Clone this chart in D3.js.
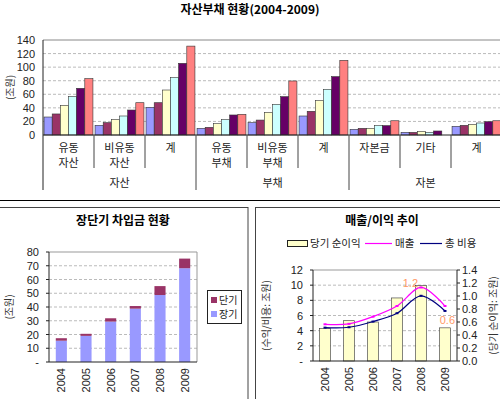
<!DOCTYPE html>
<html><head><meta charset="utf-8">
<script src="https://cdn.jsdelivr.net/npm/d3@7"></script>
<style>
body{margin:0;background:#fff;}
svg{display:block;font-family:"Liberation Sans","Noto Sans CJK KR",sans-serif;}
.kr{font-family:"Noto Sans CJK KR","Liberation Sans",sans-serif;}
</style></head><body>
<svg id="c" width="500" height="399"></svg>
<script>
// ---------- data ----------
const years = ["2004","2005","2006","2007","2008","2009"];
const topCategories = [["유동","자산"],["비유동","자산"],["계"],["유동","부채"],["비유동","부채"],["계"],["자본금"],["기타"],["계"]];
const topGroups = ["자산","부채","자본"];
const topGroupSpan = [3,3,3];
const v2004 = [26.5,14.2,40.8,9.8,18.2,28,8.3,3.9,12.8];
const v2005 = [31,18.2,47.6,11.3,22,34.9,9.8,3.9,14.2];
const v2006 = [43.7,22.6,66.3,16.7,33.4,50.6,9.8,5.4,15.7];
const v2007 = [56.5,28,84.5,22.6,45.2,67.3,13.8,3.9,17.7];
const v2008 = [68.8,36.8,105.6,29.5,56.5,86,13.8,5.9,19.6];
const v2009 = [83,47.6,131,30.5,79.6,110,21,0,21];
const topTicks = [0,20,40,60,80,100,120,140];

const loanLong = [15.5,19,29.4,38.8,48.7,68.2];
const loanShort = [1.8,1.5,2.4,1.9,6.5,7];
const loanTicks = [0,10,20,30,40,50,60,70,80];

const netIncome = [0.5,0.62,0.6,0.97,1.16,0.51];
const sales = [4.84,4.9,5.85,7.25,9.7,7.25];
const totalCost = [4.4,4.45,5.2,6.3,8.6,6.6];
const leftTicks = [0,2,4,6,8,10,12];
const rightTicks = [0,0.2,0.4,0.6,0.8,1.0,1.2,1.4];
const incomeLabels = [{i:4,t:"1.2"},{i:5,t:"0.6"}];

const yearColors = ["#9999ff","#993366","#ffffcc","#ccffff","#660066","#ff8080"];
const svg = d3.select("#c");

// ---------- top chart ----------
{
  const L=43,R=502,T=40,B=135;
  const series=[v2004,v2005,v2006,v2007,v2008,v2009];
  const x=d3.scaleBand().domain(d3.range(topCategories.length)).range([L,R]).paddingInner(0).paddingOuter(0);
  const xi=d3.scaleBand().domain(d3.range(6)).range([0,x.bandwidth()]).paddingInner(0).paddingOuter(0.13);
  const y=d3.scaleLinear().domain([0,140]).range([B,T]);
  const g=svg.append("g");
  g.append("text").attr("class","kr").attr("x",250).attr("y",14).attr("text-anchor","middle")
    .attr("font-size",12).attr("font-weight","bold").text("자산부채 현황(2004-2009)");
  g.selectAll(".gr").data(topTicks.filter(d=>d>0&&d<140)).join("line")
    .attr("x1",L).attr("x2",R).attr("y1",d=>y(d)).attr("y2",d=>y(d))
    .attr("stroke","#aaa").attr("stroke-dasharray","3,2").attr("stroke-width",0.8);
  g.append("line").attr("x1",L).attr("x2",R).attr("y1",y(140)).attr("y2",y(140)).attr("stroke","#888");
  series.forEach((s,k)=>{
    g.selectAll(".b"+k).data(s).join("rect")
      .attr("x",(d,i)=>x(i)+xi(k)).attr("width",xi.bandwidth())
      .attr("y",d=>y(d)).attr("height",d=>y(0)-y(d))
      .attr("fill",yearColors[k]).attr("stroke",d=>d>0?"#333":"none").attr("stroke-width",0.6);
  });
  const ya=g.append("g").attr("transform",`translate(${L},0)`).call(d3.axisLeft(y).tickValues(topTicks).tickSize(0).tickPadding(8));
  ya.select(".domain").remove();
  ya.selectAll("text").attr("font-size",11).attr("fill","#222").attr("font-family","Liberation Sans");
  g.append("line").attr("x1",L).attr("x2",L).attr("y1",T).attr("y2",190).attr("stroke","#222");
  g.append("line").attr("x1",L).attr("x2",R).attr("y1",B).attr("y2",B).attr("stroke","#222");
  const longB=new Set([3,6]);
  g.selectAll(".sep").data(d3.range(1,topCategories.length)).join("line")
    .attr("x1",i=>x(i)).attr("x2",i=>x(i)).attr("y1",B).attr("y2",i=>longB.has(i)?190:168)
    .attr("stroke","#444");
  topCategories.forEach((c,i)=>{
    c.forEach((t,j)=>{
      g.append("text").attr("class","kr").attr("x",x(i)+x.bandwidth()/2).attr("y",152+j*15)
        .attr("text-anchor","middle").attr("font-size",11).attr("fill","#222").text(t);
    });
  });
  let start=0;
  topGroups.forEach((gname,gi)=>{
    const n=topGroupSpan[gi];
    const cx=(x(start)+x(start+n-1)+x.bandwidth())/2;
    g.append("text").attr("class","kr").attr("x",cx).attr("y",187).attr("text-anchor","middle")
      .attr("font-size",11).attr("fill","#222").text(gname);
    start+=n;
  });
  g.append("text").attr("class","kr").attr("transform",`translate(14,${(T+B)/2}) rotate(-90)`)
    .attr("text-anchor","middle").attr("font-size",10).attr("fill","#333").text("(조원)");
}

svg.append("line").attr("x1",0).attr("x2",500).attr("y1",200.5).attr("y2",200.5).attr("stroke","#000").attr("stroke-width",1.2);
svg.append("rect").attr("x",-1).attr("y",207.5).attr("width",249).attr("height",200).attr("fill","none").attr("stroke","#444");
svg.append("rect").attr("x",255.5).attr("y",207.5).attr("width",250).attr("height",200).attr("fill","none").attr("stroke","#444");

// ---------- bottom-left chart ----------
{
  const L=49,R=197,T=252,B=362;
  const x=d3.scaleBand().domain(years).range([L,R]).paddingInner(0.55).paddingOuter(0.275);
  const y=d3.scaleLinear().domain([0,80]).range([B,T]);
  const g=svg.append("g");
  g.append("text").attr("class","kr").attr("x",123).attr("y",225).attr("text-anchor","middle")
    .attr("font-size",12).attr("font-weight","bold").text("장단기 차입금 현황");
  g.selectAll(".gr").data(loanTicks.filter(d=>d>0&&d<80)).join("line")
    .attr("x1",L).attr("x2",R).attr("y1",d=>y(d)).attr("y2",d=>y(d))
    .attr("stroke","#aaa").attr("stroke-dasharray","3,2").attr("stroke-width",0.8);
  g.append("path").attr("d",`M${L},${T}H${R}V${B}`).attr("fill","none").attr("stroke","#999");
  g.selectAll(".bl").data(loanLong).join("rect")
    .attr("x",(d,i)=>x(years[i])).attr("width",x.bandwidth())
    .attr("y",d=>y(d)).attr("height",d=>y(0)-y(d)).attr("fill","#9999ff");
  g.selectAll(".bs").data(loanShort).join("rect")
    .attr("x",(d,i)=>x(years[i])).attr("width",x.bandwidth())
    .attr("y",(d,i)=>y(d+loanLong[i])).attr("height",d=>y(0)-y(d)).attr("fill","#993366");
  const ya=g.append("g").attr("transform",`translate(${L},0)`).call(d3.axisLeft(y).tickValues(loanTicks).tickSize(0).tickPadding(10).tickFormat(d=>d===0?"-":d));
  ya.select(".domain").remove();
  ya.selectAll("text").attr("font-size",11).attr("fill","#222").attr("font-family","Liberation Sans");
  g.append("line").attr("x1",L).attr("x2",L).attr("y1",T).attr("y2",B).attr("stroke","#222");
  g.append("line").attr("x1",L).attr("x2",R).attr("y1",B).attr("y2",B).attr("stroke","#222");
  g.selectAll(".tk").data(loanTicks).join("line").attr("x1",L-3).attr("x2",L).attr("y1",d=>y(d)).attr("y2",d=>y(d)).attr("stroke","#222");
  g.selectAll(".xl").data(years).join("text")
    .attr("transform",d=>`translate(${x(d)+x.bandwidth()/2+4},${B+6}) rotate(-90)`)
    .attr("text-anchor","end").attr("font-size",11).attr("fill","#222").text(d=>d);
  g.append("text").attr("class","kr").attr("transform",`translate(13,${(T+B)/2}) rotate(-90)`)
    .attr("text-anchor","middle").attr("font-size",10).attr("fill","#333").text("(조원)");
  g.append("rect").attr("x",207.5).attr("y",290.5).attr("width",34).attr("height",33).attr("fill","#fff").attr("stroke","#222");
  [["단기","#993366"],["장기","#9999ff"]].forEach((it,i)=>{
    g.append("rect").attr("x",211).attr("y",297+i*14).attr("width",6).attr("height",6).attr("fill",it[1]);
    g.append("text").attr("class","kr").attr("x",219).attr("y",304+i*14).attr("font-size",10).attr("fill","#222").text(it[0]);
  });
}

// ---------- bottom-right chart ----------
{
  const L=313,R=457,T=270,B=361;
  const x=d3.scaleBand().domain(years).range([L,R]).paddingInner(0.55).paddingOuter(0.275);
  const yl=d3.scaleLinear().domain([0,12]).range([B,T]);
  const yr=d3.scaleLinear().domain([0,1.4]).range([B,T]);
  const g=svg.append("g");
  g.append("text").attr("class","kr").attr("x",382).attr("y",225).attr("text-anchor","middle")
    .attr("font-size",12).attr("font-weight","bold").text("매출/이익 추이");
  g.append("rect").attr("x",287.5).attr("y",240.5).attr("width",20).attr("height",6).attr("fill","#ffffcc").attr("stroke","#222");
  g.append("text").attr("class","kr").attr("x",310).attr("y",247).attr("font-size",10.5).attr("fill","#222").text("당기 순이익");
  g.append("line").attr("x1",365).attr("x2",392).attr("y1",243.5).attr("y2",243.5).attr("stroke","#ff00ff").attr("stroke-width",1.2);
  g.append("text").attr("class","kr").attr("x",395).attr("y",247).attr("font-size",10.5).attr("fill","#222").text("매출");
  g.append("line").attr("x1",420).attr("x2",442).attr("y1",243.5).attr("y2",243.5).attr("stroke","#000080").attr("stroke-width",1.2);
  g.append("text").attr("class","kr").attr("x",445).attr("y",247).attr("font-size",10.5).attr("fill","#222").text("총 비용");
  g.selectAll(".gr").data(leftTicks.filter(d=>d>0&&d<12)).join("line")
    .attr("x1",L).attr("x2",R).attr("y1",d=>yl(d)).attr("y2",d=>yl(d))
    .attr("stroke","#aaa").attr("stroke-dasharray","3,2").attr("stroke-width",0.8);
  g.append("line").attr("x1",L).attr("x2",R).attr("y1",T).attr("y2",T).attr("stroke","#999");
  g.selectAll(".bn").data(netIncome).join("rect")
    .attr("x",(d,i)=>x(years[i])).attr("width",x.bandwidth())
    .attr("y",d=>yr(d)).attr("height",d=>yr(0)-yr(d))
    .attr("fill","#ffffcc").attr("stroke","#333").attr("stroke-width",0.6);
  const cx=i=>x(years[i])+x.bandwidth()/2;
  const line=(arr)=>d3.line().x((d,i)=>cx(i)).y(d=>yl(d)).curve(d3.curveCatmullRom.alpha(0.5))(arr);
  g.append("path").attr("d",line(sales)).attr("fill","none").attr("stroke","#ff00ff").attr("stroke-width",1.2);
  g.append("path").attr("d",line(totalCost)).attr("fill","none").attr("stroke","#000080").attr("stroke-width",1.2);
  [[sales,"#ff00ff"],[totalCost,"#000080"]].forEach(([arr,c])=>{
    g.selectAll(null).data(arr).join("line").attr("x1",(d,i)=>cx(i)-1.5).attr("x2",(d,i)=>cx(i)+1.5)
      .attr("y1",d=>yl(d)).attr("y2",d=>yl(d)).attr("stroke",c).attr("stroke-width",2);
  });
  const ya=g.append("g").attr("transform",`translate(${L},0)`).call(d3.axisLeft(yl).tickValues(leftTicks).tickSize(0).tickPadding(10).tickFormat(d=>d===0?"-":d));
  ya.select(".domain").remove();
  ya.selectAll("text").attr("font-size",11).attr("fill","#222").attr("font-family","Liberation Sans");
  const yra=g.append("g").attr("transform",`translate(${R},0)`).call(d3.axisRight(yr).tickValues(rightTicks).tickSize(0).tickPadding(5).tickFormat(d3.format(".1f")));
  yra.select(".domain").remove();
  yra.selectAll("text").attr("font-size",11).attr("fill","#222").attr("font-family","Liberation Sans");
  g.append("line").attr("x1",L).attr("x2",L).attr("y1",T).attr("y2",B).attr("stroke","#222");
  g.append("line").attr("x1",R).attr("x2",R).attr("y1",T).attr("y2",B).attr("stroke","#222");
  g.append("line").attr("x1",L).attr("x2",R).attr("y1",B).attr("y2",B).attr("stroke","#222");
  g.selectAll(".tl").data(leftTicks).join("line").attr("x1",L-3).attr("x2",L).attr("y1",d=>yl(d)).attr("y2",d=>yl(d)).attr("stroke","#222");
  g.selectAll(".tr").data(rightTicks).join("line").attr("x1",R).attr("x2",R+3).attr("y1",d=>yr(d)).attr("y2",d=>yr(d)).attr("stroke","#222");
  g.selectAll(".xl").data(years).join("text")
    .attr("transform",d=>`translate(${x(d)+x.bandwidth()/2+4},${B+6}) rotate(-90)`)
    .attr("text-anchor","end").attr("font-size",11).attr("fill","#222").text(d=>d);
  g.append("text").attr("x",cx(incomeLabels[0].i)-3).attr("y",yr(netIncome[incomeLabels[0].i])+1)
    .attr("text-anchor","end").attr("font-size",11).attr("fill","#ff9966").text(incomeLabels[0].t);
  g.append("text").attr("x",cx(incomeLabels[1].i)+10).attr("y",yr(netIncome[incomeLabels[1].i])-4)
    .attr("text-anchor","end").attr("font-size",11).attr("fill","#ff9966").text(incomeLabels[1].t);
  g.append("text").attr("class","kr").attr("transform",`translate(270,${(T+B)/2}) rotate(-90)`)
    .attr("text-anchor","middle").attr("font-size",10).attr("fill","#333").text("(수익/비용: 조원)");
  g.append("text").attr("class","kr").attr("transform",`translate(497,${(T+B)/2}) rotate(-90)`)
    .attr("text-anchor","middle").attr("font-size",10).attr("fill","#333").text("(당기 순이익: 조원)");
}
</script>
</body></html>
